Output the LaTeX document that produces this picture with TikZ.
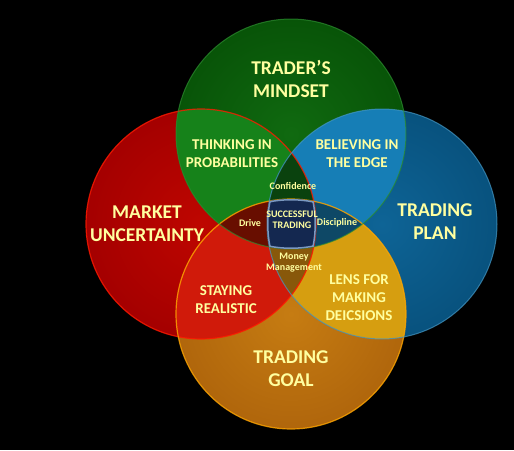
\documentclass[tikz,border=0pt]{standalone}
\usepackage{fontspec}
\setmainfont{Carlito}
\usepackage{tikz}

\definecolor{txtyellow}{RGB}{255,255,160}
\definecolor{greenmain}{RGB}{8,84,8}
\definecolor{greeninner}{RGB}{16,106,16}
\definecolor{greenlight}{RGB}{22,130,26}
\definecolor{redmain}{RGB}{164,0,0}
\definecolor{redinner}{RGB}{190,6,0}
\definecolor{redlight}{RGB}{208,26,10}
\definecolor{bluemain}{RGB}{8,82,126}
\definecolor{blueinner}{RGB}{14,100,150}
\definecolor{bluelight}{RGB}{22,126,182}
\definecolor{orangemain}{RGB}{176,102,12}
\definecolor{orangeinner}{RGB}{198,124,18}
\definecolor{orangelight}{RGB}{214,158,16}
\definecolor{confcol}{RGB}{10,66,14}
\definecolor{drivecol}{RGB}{104,14,0}
\definecolor{disccol}{RGB}{14,72,102}
\definecolor{moneycol}{RGB}{136,88,10}
\definecolor{centrecol}{RGB}{20,40,80}
\definecolor{centreedge}{RGB}{122,152,192}

\begin{document}
\begin{tikzpicture}[x=1pt, y=-1pt,
    bigtext/.style={text=txtyellow, align=center, font=\bfseries\fontsize{19.5}{23}\selectfont},
    midtext/.style={text=txtyellow, align=center, font=\bfseries\fontsize{15}{18}\selectfont},
    smalltext/.style={text=txtyellow, align=center, font=\bfseries\fontsize{10}{11}\selectfont}]
  \fill[black] (0,0) rectangle (514,450);
  \useasboundingbox (0,0) rectangle (514,450);
  \def\rad{115pt}
  \coordinate (g) at (291,134);
  \coordinate (r) at (201,224);
  \coordinate (b) at (382,224);
  \coordinate (o) at (291,314);

  % the four circles
  \shade[inner color=redinner, outer color=redmain] (r) circle (\rad);
  \shade[inner color=orangeinner, outer color=orangemain] (o) circle (\rad);
  \shade[inner color=blueinner, outer color=bluemain] (b) circle (\rad);
  \shade[inner color=greeninner, outer color=greenmain] (g) circle (\rad);

  % pairwise overlaps
  \begin{scope}
    \clip (g) circle (\rad);
    \fill[greenlight] (r) circle (\rad);
  \end{scope}
  \begin{scope}
    \clip (g) circle (\rad);
    \fill[bluelight] (b) circle (\rad);
  \end{scope}
  \begin{scope}
    \clip (b) circle (\rad);
    \fill[orangelight] (o) circle (\rad);
  \end{scope}
  \begin{scope}
    \clip (o) circle (\rad);
    \fill[redlight] (r) circle (\rad);
  \end{scope}

  % triple overlaps
  \begin{scope}
    \clip (g) circle (\rad); \clip (r) circle (\rad);
    \fill[confcol] (b) circle (\rad);
  \end{scope}
  \begin{scope}
    \clip (g) circle (\rad); \clip (r) circle (\rad);
    \fill[drivecol] (o) circle (\rad);
  \end{scope}
  \begin{scope}
    \clip (g) circle (\rad); \clip (b) circle (\rad);
    \fill[disccol] (o) circle (\rad);
  \end{scope}
  \begin{scope}
    \clip (r) circle (\rad); \clip (b) circle (\rad);
    \fill[moneycol] (o) circle (\rad);
  \end{scope}

  % edges
  \draw[red!90!yellow, line width=1.2pt, opacity=.8] (r) circle (\rad);
  \draw[orange!70!yellow, line width=1.2pt, opacity=.8] (o) circle (\rad);
  \draw[bluelight!80!white, line width=1pt, opacity=.7] (b) circle (\rad);
  \draw[greenlight!90!white, line width=1pt, opacity=.7] (g) circle (\rad);

  % centre
  \begin{scope}
    \clip (g) circle (\rad); \clip (r) circle (\rad); \clip (b) circle (\rad);
    \fill[centrecol] (o) circle (\rad);
  \end{scope}
  \begin{scope}
    \clip (g) circle (\rad); \clip (r) circle (\rad); \clip (b) circle (\rad); \clip (o) circle (\rad);
    \draw[centreedge, line width=3pt] (g) circle (\rad) (r) circle (\rad) (b) circle (\rad) (o) circle (\rad);
  \end{scope}

  % labels
  \node[bigtext] (mindset) at (291,79) {TRADER’S\\MINDSET};
  \node[bigtext] (market) at (147,224) {MARKET\\UNCERTAINTY};
  \node[bigtext] (plan) at (435,222) {TRADING\\PLAN};
  \node[bigtext] (goal) at (291,369) {TRADING\\GOAL};
  \node[midtext] (thinking) at (232,154) {THINKING IN\\PROBABILITIES};
  \node[midtext] (believing) at (357,154) {BELIEVING IN\\THE EDGE};
  \node[midtext] (staying) at (226,300) {STAYING\\REALISTIC};
  \node[midtext] (lens) at (359,298) {LENS FOR\\MAKING\\DEICSIONS};
  \node[smalltext] (confidence) at (293,186) {Confidence};
  \node[smalltext] (drive) at (250,223) {Drive};
  \node[smalltext] (discipline) at (337,223) {Discipline};
  \node[smalltext] (success) at (292,220) {SUCCESSFUL\\TRADING};
  \node[smalltext] (money) at (294,263) {Money\\Management};
\end{tikzpicture}
\end{document}
